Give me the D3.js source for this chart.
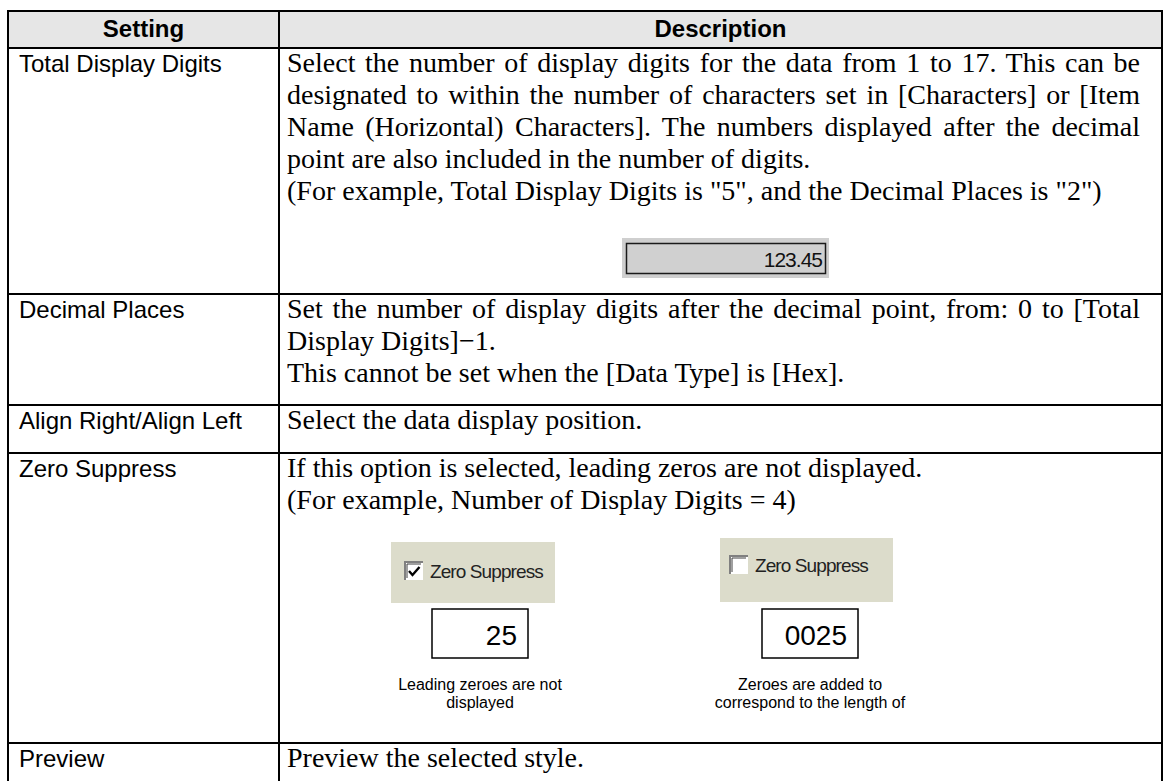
<!DOCTYPE html>
<html><head><meta charset="utf-8">
<script src="https://cdn.jsdelivr.net/npm/d3@7"></script>
<style>body{margin:0;background:#fff}svg{display:block}</style>
</head><body><svg id="c" width="1164" height="781"></svg>
<script>
// ---- data ----
const headers = ["Setting", "Description"];
const settings = ["Total Display Digits", "Decimal Places", "Align Right/Align Left", "Zero Suppress", "Preview"];
const descTotal = [
  "Select the number of display digits for the data from 1 to 17. This can be",
  "designated to within the number of characters set in [Characters] or [Item",
  "Name (Horizontal) Characters]. The numbers displayed after the decimal",
  "point are also included in the number of digits.",
  "(For example, Total Display Digits is \"5\", and the Decimal Places is \"2\")"
];
const justTotal = [true, true, true, false, false];
const descDecimal = [
  "Set the number of display digits after the decimal point, from: 0 to [Total",
  "Display Digits]\u22121.",
  "This cannot be set when the [Data Type] is [Hex]."
];
const justDecimal = [true, false, false];
const descAlign = ["Select the data display position."];
const descZero = [
  "If this option is selected, leading zeros are not displayed.",
  "(For example, Number of Display Digits = 4)"
];
const descPreview = ["Preview the selected style."];
const sampleValue = "123.45";
const zeroLabel = "Zero Suppress";
const zeroValues = ["25", "0025"];
const zeroChecked = [true, false];
const zeroCaptions = [["Leading zeroes are not", "displayed"], ["Zeroes are added to", "correspond to the length of"]];

// ---- layout ----
const svg = d3.select("#c");
const X0 = 8, XD = 279, X1 = 1162;
const rowTops = [11, 48, 294, 405, 453, 743, 830];
const sans = "'Liberation Sans', Arial, sans-serif";
const serif = "'Liberation Serif', 'Times New Roman', serif";
const LH = 32, serifSize = 28, sansSize = 24, BASE = 24;
const textL = 19, textR = 287, textRMax = 1140;

svg.append("rect").attr("x", X0).attr("y", rowTops[0]).attr("width", X1 - X0)
  .attr("height", rowTops[1] - rowTops[0]).attr("fill", "#e6e6e6");

const hx = d3.scaleOrdinal().domain(headers).range([(X0 + XD) / 2, (XD + X1) / 2]);
svg.selectAll("text.h").data(headers).join("text").attr("class", "h")
  .attr("x", d => hx(d)).attr("y", 37).attr("text-anchor", "middle")
  .attr("font-family", sans).attr("font-weight", "bold").attr("font-size", 24)
  .attr("fill", "#000").text(d => d);

// setting names
svg.selectAll("text.s").data(settings).join("text").attr("class", "s")
  .attr("x", textL).attr("y", (d, i) => rowTops[i + 1] + BASE)
  .attr("font-family", sans).attr("font-size", sansSize).attr("fill", "#000").text(d => d);

function para(lines, just, top) {
  lines.forEach((ln, i) => {
    const t = svg.append("text").attr("x", textR).attr("y", top + BASE + i * LH)
      .attr("font-family", serif).attr("font-size", serifSize).attr("fill", "#000")
      .attr("xml:space", "preserve").text(ln);
    if (just && just[i]) {
      const w = t.node().getComputedTextLength();
      const n = (ln.match(/ /g) || []).length;
      if (n > 0) t.attr("word-spacing", (textRMax - textR - w) / n);
    }
  });
}
para(descTotal, justTotal, rowTops[1]);
para(descDecimal, justDecimal, rowTops[2]);
para(descAlign, null, rowTops[3]);
para(descZero, null, rowTops[4]);
para(descPreview, null, rowTops[5]);

// 123.45 sample widget
const w1 = svg.append("g");
w1.append("rect").attr("x", 622).attr("y", 238).attr("width", 207).attr("height", 40).attr("fill", "#cfcfcf");
w1.append("rect").attr("x", 626.5).attr("y", 243.5).attr("width", 199).attr("height", 30)
  .attr("fill", "#d0d0d0").attr("stroke", "#1a1a1a").attr("stroke-width", 1.5);
w1.append("text").attr("x", 822).attr("y", 267).attr("text-anchor", "end")
  .attr("font-family", sans).attr("font-size", 21).attr("letter-spacing", -1).attr("fill", "#111").text(sampleValue);

// zero suppress examples
const zx = d3.scaleOrdinal().domain([0, 1]).range([480, 810]);
const panels = [{x: 391, y: 542, w: 164, h: 61, cb: 405, cy: 562}, {x: 720, y: 538, w: 173, h: 64, cb: 730, cy: 556}];
zeroValues.forEach((v, i) => {
  const p = panels[i];
  const g = svg.append("g");
  g.append("rect").attr("x", p.x).attr("y", p.y).attr("width", p.w).attr("height", p.h).attr("fill", "#dcdccb");
  g.append("rect").attr("x", p.cb).attr("y", p.cy).attr("width", 18).attr("height", 18).attr("fill", "#fff");
  g.append("path").attr("d", `M${p.cb},${p.cy + 18}V${p.cy}H${p.cb + 18}`).attr("fill", "none").attr("stroke", "#808080").attr("stroke-width", 2);
  g.append("path").attr("d", `M${p.cb + 2},${p.cy + 16}V${p.cy + 2}H${p.cb + 16}`).attr("fill", "none").attr("stroke", "#404040").attr("stroke-width", 1);
  if (zeroChecked[i]) {
    g.append("path").attr("d", `M${p.cb + 4},${p.cy + 9} l3.5,4 l7,-8`).attr("fill", "none").attr("stroke", "#000").attr("stroke-width", 2.4);
  }
  g.append("text").attr("x", p.cb + 25).attr("y", p.cy + 16).attr("font-family", sans).attr("font-size", 19)
    .attr("letter-spacing", -0.9).attr("fill", "#222").text(zeroLabel);
  const cx = zx(i);
  g.append("rect").attr("x", cx - 48).attr("y", 609).attr("width", 96).attr("height", 49)
    .attr("fill", "#fff").attr("stroke", "#000").attr("stroke-width", 1.5);
  g.append("text").attr("x", cx + 37).attr("y", 645).attr("text-anchor", "end").attr("font-family", sans)
    .attr("font-size", 28).attr("fill", "#000").text(v);
  g.selectAll("text.cap").data(zeroCaptions[i]).join("text").attr("class", "cap")
    .attr("x", cx).attr("y", (d, j) => 690 + j * 18).attr("text-anchor", "middle")
    .attr("font-family", sans).attr("font-size", 16).attr("fill", "#000").text(d => d);
});

// grid lines
const grid = svg.append("g").attr("stroke", "#000").attr("stroke-width", 2);
grid.selectAll("line.r").data(rowTops).join("line").attr("class", "r")
  .attr("x1", X0 - 1).attr("x2", X1 + 1).attr("y1", d => d).attr("y2", d => d);
grid.selectAll("line.c").data([X0, XD, X1]).join("line").attr("class", "c")
  .attr("x1", d => d).attr("x2", d => d).attr("y1", rowTops[0] - 1).attr("y2", 830);
</script></body></html>
